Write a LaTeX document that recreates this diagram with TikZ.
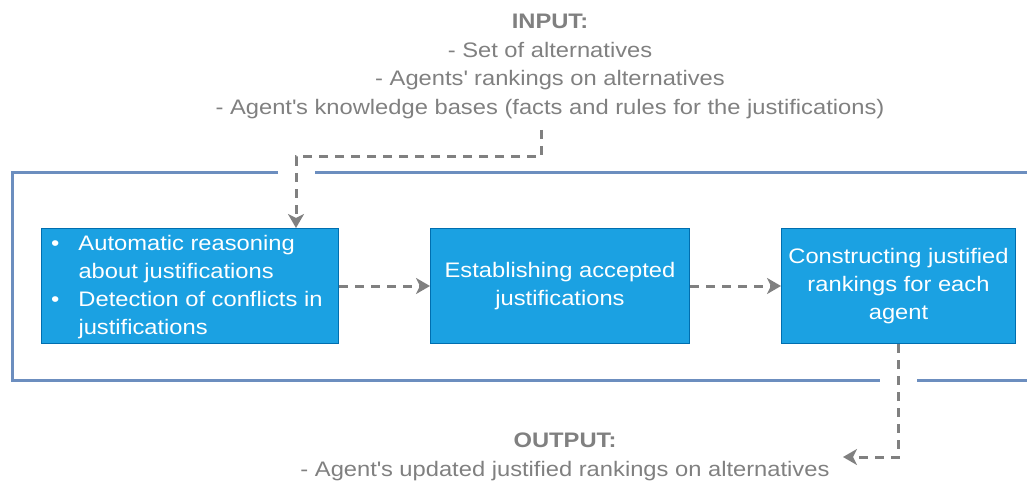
\documentclass[tikz,border=0pt]{standalone}
\usepackage{fontspec}
\setmainfont{Liberation Sans}[FakeStretch=1.13]
\usetikzlibrary{arrows.meta,positioning}
\definecolor{boxfill}{HTML}{1BA1E2}
\definecolor{boxline}{HTML}{006EAF}
\definecolor{frameblue}{HTML}{6C8EBF}
\definecolor{txtgray}{HTML}{808080}
\tikzset{
  procbox/.style={draw=boxline, line width=1pt, fill=boxfill, text=white, font=\fontsize{21}{28}\selectfont, inner sep=0pt, align=center},
  flow/.style={draw=txtgray, line width=3pt, dash pattern=on 9pt off 7pt, -{Stealth[length=14pt,width=16pt,inset=4pt]}},
  frameline/.style={draw=frameblue, line width=3pt},
  graytext/.style={text=txtgray, align=center, inner sep=0pt, font=\fontsize{21}{28.5}\selectfont}
}
\begin{document}
\begin{tikzpicture}[x=1pt,y=-1pt]
\clip (0,0) rectangle (1027,481);
\useasboundingbox (0,0) rectangle (1027,481);
% frame
\draw[frameline] (278,173) -- (12,173) -- (12,380) -- (880,380);
\draw[frameline] (315,173) -- (1040,173);
\draw[frameline] (917,380) -- (1040,380);
% boxes
\node[procbox, minimum width=297pt, minimum height=115pt, anchor=north west] (b1) at (41,228) {};
\node[anchor=north west, inner sep=0pt, text=white, font=\fontsize{21}{28}\selectfont] (b1t) at (51,231) {%
\begin{tabular}{@{}c@{\hspace{19pt}}l@{}}
\textbullet & Automatic reasoning\\
 & about justifications\\
\textbullet & Detection of conflicts in\\
 & justifications
\end{tabular}};
\node[procbox, minimum width=259pt, minimum height=115pt, anchor=north west] (b2) at (430,228) {Establishing accepted\\justifications};
\node[procbox, minimum width=234pt, minimum height=115pt, anchor=north west] (b3) at (781,228) {Constructing justified\\rankings for each\\agent};
% input
\node[graytext, anchor=north] (in) at (550,14) {\textbf{INPUT:}\\- Set of alternatives\\- Agents\textquotesingle\ rankings on alternatives\\- Agent\textquotesingle s knowledge bases (facts and rules for the justifications)};
\coordinate (inS) at (541,130);
\coordinate (c1) at (296,157);
\draw[flow] (inS) |- (c1) -- (c1 |- b1.north);
% arrows between boxes
\draw[flow] (b1.east) -- (b2.west);
\draw[flow] (b2.east) -- (b3.west);
% output
\node[graytext, anchor=north] (out) at (565,433) {\textbf{OUTPUT:}\\- Agent\textquotesingle s updated justified rankings on alternatives};
\coordinate (outE) at (843,457);
\draw[flow] (b3.south) |- (outE);
\end{tikzpicture}
\end{document}
